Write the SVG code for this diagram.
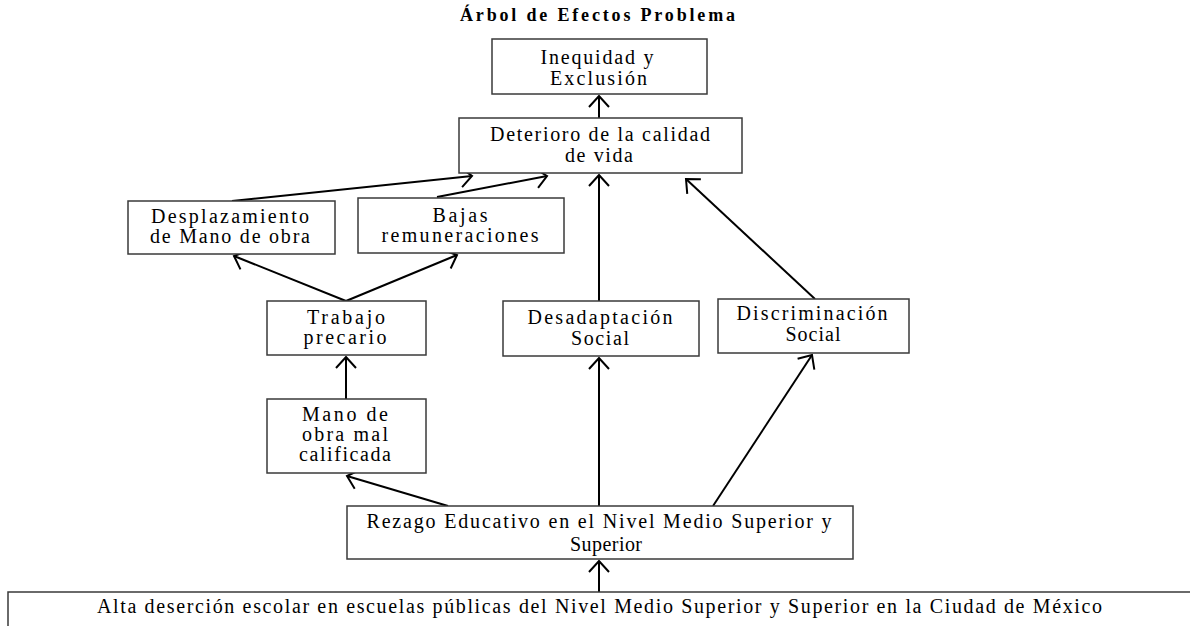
<svg xmlns="http://www.w3.org/2000/svg" width="1190" height="626" viewBox="0 0 1190 626">
<defs>
<marker id="arr" markerUnits="userSpaceOnUse" markerWidth="14" markerHeight="24" refX="12" refY="11" orient="auto" overflow="visible">
<path d="M1,1 L12,11 L1,21" fill="none" stroke="#000" stroke-width="2"/>
</marker>
<style>
.box{fill:#fff;stroke:#3a3a3a;stroke-width:1.5}
.t{font-family:"Liberation Serif","Times New Roman",serif;font-size:20px;fill:#000;text-anchor:middle}
.title{font-family:"Liberation Serif","Times New Roman",serif;font-size:18px;font-weight:bold;fill:#000;text-anchor:middle}
.c line{stroke:#000;stroke-width:2;marker-end:url(#arr)}
</style>
</defs>
<rect width="1190" height="626" fill="#fff"/>
<text class="title" x="597.5" y="21" textLength="275">Árbol de Efectos Problema</text>

<g class="c" id="connectors">
<line x1="599" y1="118" x2="599" y2="96"/>
<line x1="232" y1="201" x2="472" y2="176"/>
<line x1="437" y1="197" x2="547" y2="176"/>
<line x1="599" y1="301" x2="599" y2="175"/>
<line x1="815" y1="299" x2="686" y2="179"/>
<line x1="346" y1="301" x2="234" y2="256"/>
<line x1="346" y1="301" x2="457" y2="255"/>
<line x1="346" y1="399" x2="346" y2="357"/>
<line x1="448" y1="506" x2="347" y2="476"/>
<line x1="599" y1="506" x2="599" y2="358"/>
<line x1="713" y1="506" x2="812" y2="355"/>
<line x1="599" y1="592" x2="599" y2="561"/>
</g>

<g id="inequidad">
<rect class="box" x="492" y="39" width="215" height="55"/>
<text class="t" x="597" y="64" textLength="113">Inequidad y</text>
<text class="t" x="598.5" y="85" textLength="97">Exclusión</text>
</g>
<g id="deterioro">
<rect class="box" x="459" y="118" width="283" height="55"/>
<text class="t" x="600" y="141" textLength="220">Deterioro de la calidad</text>
<text class="t" x="599" y="162" textLength="68">de vida</text>
</g>
<g id="desplazamiento">
<rect class="box" x="128" y="201" width="207" height="53"/>
<text class="t" x="230" y="223" textLength="158">Desplazamiento</text>
<text class="t" x="230" y="243" textLength="160">de Mano de obra</text>
</g>
<g id="bajas">
<rect class="box" x="358" y="198" width="206" height="55"/>
<text class="t" x="460" y="222" textLength="55">Bajas</text>
<text class="t" x="460" y="242" textLength="157">remuneraciones</text>
</g>
<g id="trabajo">
<rect class="box" x="267" y="301" width="159" height="54"/>
<text class="t" x="346" y="324" textLength="78">Trabajo</text>
<text class="t" x="345" y="344" textLength="83">precario</text>
</g>
<g id="mano">
<rect class="box" x="267" y="399" width="159" height="74"/>
<text class="t" x="345" y="421" textLength="86">Mano de</text>
<text class="t" x="345" y="441" textLength="86">obra mal</text>
<text class="t" x="345" y="461" textLength="92">calificada</text>
</g>
<g id="desadaptacion">
<rect class="box" x="503" y="301" width="196" height="55"/>
<text class="t" x="600" y="324" textLength="145">Desadaptación</text>
<text class="t" x="600" y="345" textLength="58">Social</text>
</g>
<g id="discriminacion">
<rect class="box" x="718" y="299" width="191" height="54"/>
<text class="t" x="812" y="320" textLength="151">Discriminación</text>
<text class="t" x="813" y="341" textLength="55">Social</text>
</g>
<g id="rezago">
<rect class="box" x="347" y="506" width="506" height="53"/>
<text class="t" x="599" y="528" textLength="465">Rezago Educativo en el Nivel Medio Superior y</text>
<text class="t" x="606" y="551" textLength="72">Superior</text>
</g>
<g id="alta">
<path class="box" d="M1195,592 L8,592 L8,630"/>
<text class="t" x="599.5" y="613" textLength="1005">Alta deserción escolar en escuelas públicas del Nivel Medio Superior y Superior en la Ciudad de México</text>
</g>
</svg>
